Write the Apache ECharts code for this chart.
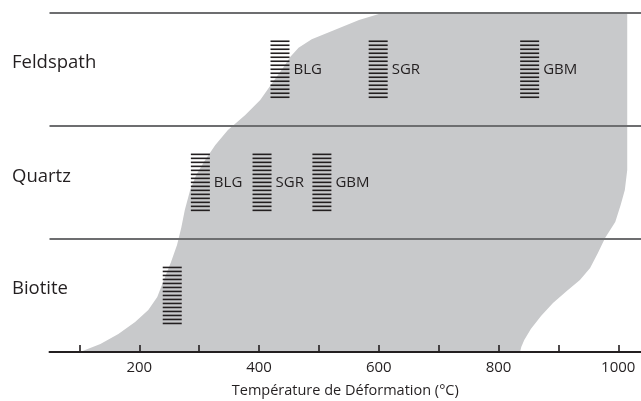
<!DOCTYPE html>
<html>
<head>
<meta charset="utf-8">
<script src="https://cdn.jsdelivr.net/npm/echarts@6/dist/echarts.min.js"></script>
<style>
    html, body { margin: 0; padding: 0; background: #fff; }
    #chart { width: 641px; height: 401px; }
</style>
</head>
<body>
<div id="chart"></div>
<script>
    // lignes du diagramme, de bas en haut
    var rows = ['Biotite', 'Quartz', 'Feldspath'];
    // position verticale des noms de ligne (un peu au-dessus du centre)
    var rowLabelLevel = [0.56, 1.55, 2.555];
    // graduations de l'axe des températures
    var xTicks = [100, 200, 300, 400, 500, 600, 700, 800, 900, 1000];
    var xLabels = [200, 400, 600, 800, 1000];
    // zone grise : bord gauche (bas -> haut) puis bord droit (haut -> bas), [température, niveau]
    var leftEdge = [
        [101, 0], [135, 0.071], [165, 0.159], [193, 0.265], [215, 0.371], [230, 0.486],
        [241, 0.637], [253, 0.796], [263, 0.946], [270, 1.096], [276, 1.256], [285, 1.432],
        [295, 1.565], [310, 1.698], [327, 1.830], [348, 1.963], [377, 2.095], [402, 2.228],
        [422, 2.378], [440, 2.511], [452, 2.608], [466, 2.690], [488, 2.765], [525, 2.845],
        [567, 2.935], [607, 3]
    ];
    var rightEdge = [
        [1015, 3], [1015, 1.609], [1011, 1.432], [1004, 1.300], [995, 1.149], [978, 1.008],
        [966, 0.875], [953, 0.743], [936, 0.637], [914, 0.539], [891, 0.433], [871, 0.318],
        [854, 0.203], [843, 0.106], [838, 0.044], [836, 0]
    ];
    // mécanismes de recristallisation
    var markTemp = [435, 599, 852, 302, 405, 505, 255];
    var markRow = ['Feldspath', 'Feldspath', 'Feldspath', 'Quartz', 'Quartz', 'Quartz', 'Biotite'];
    var markName = ['BLG', 'SGR', 'GBM', 'BLG', 'SGR', 'GBM', ''];

    var FONT = 'Open Sans';
    var INK = '#231f20';
    var chart = echarts.init(document.getElementById('chart'));

    var markData = [];
    for (var i = 0; i < markTemp.length; i++) {
        markData.push([markTemp[i], rows.indexOf(markRow[i]) + 0.5]);
    }

    //zone grise
    function renderField(params, api) {
        var pts = [];
        var outline = leftEdge.concat(rightEdge);
        for (var i = 0; i < outline.length; i++) {
            pts.push(api.coord(outline[i]));
        }
        return { type: 'polygon', shape: { points: pts }, style: { fill: '#c8c9cb' } };
    }

    //hachures + étiquette
    function renderMark(params, api) {
        var c = api.coord([api.value(0), api.value(1)]);
        var n = 15, step = 4;
        var top = c[1] - (n - 1) * step / 2;
        var children = [];
        for (var k = 0; k < n; k++) {
            children.push({
                type: 'rect',
                shape: { x: c[0] - 9.5, y: top + k * step - 0.8, width: 19, height: 1.6 },
                style: { fill: INK }
            });
        }
        var name = markName[params.dataIndex];
        if (name) {
            children.push({
                type: 'text',
                style: {
                    text: name, x: c[0] + 13.5, y: c[1],
                    verticalAlign: 'middle', align: 'left',
                    font: '15px "' + FONT + '"', fill: INK
                }
            });
        }
        return { type: 'group', children: children };
    }

    var option = {
        animation: false,
        textStyle: { fontFamily: FONT },
        grid: { left: 49.5, right: 0, top: 12.7, bottom: 49, outerBoundsMode: 'none' },
        xAxis: {
            type: 'value',
            min: 50,
            max: 1038,
            z: 3,
            name: 'Température de Déformation (°C)',
            nameLocation: 'middle',
            nameGap: 31,
            nameTextStyle: { color: INK, fontSize: 14.5, fontFamily: FONT },
            axisLine: { lineStyle: { color: INK, width: 2 } },
            axisTick: { inside: true, length: 7, customValues: xTicks, lineStyle: { color: INK, width: 1.6 } },
            axisLabel: {
                customValues: xLabels,
                formatter: function (v) { return String(v); },
                color: INK,
                fontSize: 15,
                margin: 8
            },
            splitLine: { show: false }
        },
        yAxis: {
            type: 'value',
            min: 0,
            max: 3,
            interval: 1,
            z: 3,
            axisLine: { show: false },
            axisTick: { show: false },
            axisLabel: {
                customValues: rowLabelLevel,
                formatter: function (v) { return rows[Math.floor(v)]; },
                align: 'left',
                margin: 37.5,
                color: INK,
                fontSize: 18.5
            },
            splitLine: { show: true, lineStyle: { color: '#6d6e70', width: 2 } }
        },
        series: [{
            type: 'custom',
            z: 1,
            silent: true,
            renderItem: renderField,
            data: [[100, 0]]
        }, {
            type: 'custom',
            z: 5,
            silent: true,
            renderItem: renderMark,
            data: markData
        }]
    };
    chart.setOption(option);
</script>
</body>
</html>
